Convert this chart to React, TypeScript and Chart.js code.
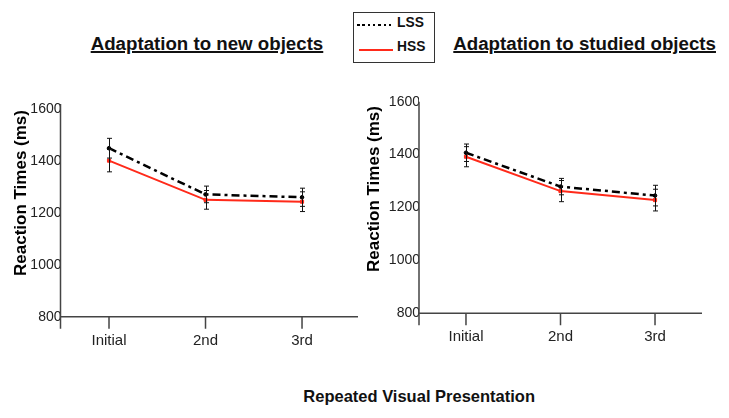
import React, { useEffect, useRef } from "react";
import { Chart, registerables } from "chart.js";

Chart.register(...registerables);
Chart.defaults.font.family = '"Liberation Sans", Arial, Helvetica, sans-serif';

// ---------- data ----------
const categories = ["Initial", "2nd", "3rd"];
const seriesNames = ["LSS", "HSS"];
const yMin = 800;
const yMax = 1600;
const yStep = 200;

const newLSS = [1449, 1271, 1260];
const newHSS = [1401, 1250, 1243];
const newLSSErr = [38, 32, 35];
const newHSSErr = [43, 36, 38];

const studiedLSS = [1407, 1279, 1245];
const studiedHSS = [1392, 1262, 1228];
const studiedLSSErr = [33, 31, 39];
const studiedHSSErr = [38, 40, 41];

const panelTitles = ["Adaptation to new objects", "Adaptation to studied objects"];
const yAxisTitle = "Reaction Times (ms)";
const xAxisTitle = "Repeated Visual Presentation";

const FONT = '"Liberation Sans", Arial, Helvetica, sans-serif';
const LSS_COLOR = "#000000";
const HSS_COLOR = "#ff2a1a";
const AXIS_COLOR = "#444444";

// ---------- plugins ----------
const axesPlugin = {
  id: "axesCustom",
  afterDraw(chart: any, _args: any, opts: any) {
    const { ctx, chartArea } = chart;
    const { left, right, top, bottom } = chartArea;
    const xs = chart.scales.x;
    ctx.save();
    ctx.strokeStyle = AXIS_COLOR;
    ctx.lineWidth = 1.5;
    ctx.beginPath();
    ctx.moveTo(left, top - opts.yExtTop);
    ctx.lineTo(left, bottom + 12);
    ctx.moveTo(left, bottom);
    ctx.lineTo(right, bottom);
    categories.forEach((_, i) => {
      const px = xs.getPixelForValue(i);
      ctx.moveTo(px, bottom);
      ctx.lineTo(px, bottom + 12);
    });
    ctx.stroke();
    ctx.translate(opts.titleX, opts.titleY);
    ctx.rotate(-Math.PI / 2);
    ctx.font = `bold 17px ${FONT}`;
    ctx.fillStyle = "#000";
    ctx.textAlign = "center";
    ctx.textBaseline = "middle";
    ctx.fillText(yAxisTitle, 0, 0);
    ctx.restore();
  },
};

const errorBarPlugin = {
  id: "errorBars",
  afterDatasetsDraw(chart: any) {
    const { ctx } = chart;
    const ys = chart.scales.y;
    ctx.save();
    ctx.strokeStyle = "#111";
    ctx.lineWidth = 1;
    chart.data.datasets.forEach((ds: any, d: number) => {
      const meta = chart.getDatasetMeta(d);
      meta.data.forEach((el: any, i: number) => {
        const v = ds.data[i].y;
        const e = ds.errors[i];
        const x = Math.round(el.x) + 0.5;
        const yt = ys.getPixelForValue(v + e);
        const yb = ys.getPixelForValue(v - e);
        ctx.beginPath();
        ctx.moveTo(x, yt);
        ctx.lineTo(x, yb);
        ctx.moveTo(x - 2.5, yt);
        ctx.lineTo(x + 2.5, yt);
        ctx.moveTo(x - 2.5, yb);
        ctx.lineTo(x + 2.5, yb);
        ctx.stroke();
      });
    });
    ctx.restore();
  },
};

type Geo = {
  left: number;
  top: number;
  width: number;
  height: number;
  padTop: number;
  padRight: number;
  yWidth: number;
  xHeight: number;
  xMin: number;
  xMax: number;
  titleX: number;
  titleY: number;
  yExtTop: number;
};

function Panel(props: {
  lss: number[];
  hss: number[];
  lssErr: number[];
  hssErr: number[];
  geo: Geo;
}) {
  const ref = useRef<HTMLCanvasElement | null>(null);
  const { lss, hss, lssErr, hssErr, geo } = props;

  useEffect(() => {
    if (!ref.current) return;
    const chart = new Chart(ref.current, {
      type: "line",
      data: {
        datasets: [
          {
            label: seriesNames[0],
            data: lss.map((y, i) => ({ x: i, y })),
            errors: lssErr,
            borderColor: LSS_COLOR,
            backgroundColor: LSS_COLOR,
            borderWidth: 2.5,
            borderDash: [8, 4, 3, 4],
            pointRadius: 1.8,
            pointBorderWidth: 1,
            pointStyle: "circle",
            tension: 0,
          } as any,
          {
            label: seriesNames[1],
            data: hss.map((y, i) => ({ x: i, y })),
            errors: hssErr,
            borderColor: HSS_COLOR,
            backgroundColor: HSS_COLOR,
            borderWidth: 2,
            pointRadius: 2.2,
            pointBorderWidth: 1,
            pointStyle: "rect",
            tension: 0,
          } as any,
        ],
      },
      options: {
        responsive: false,
        animation: false,
        devicePixelRatio: 1,
        layout: { padding: { top: geo.padTop, right: geo.padRight, left: 0, bottom: 0 } },
        plugins: {
          legend: { display: false },
          tooltip: { enabled: false },
          axesCustom: { titleX: geo.titleX, titleY: geo.titleY, yExtTop: geo.yExtTop },
        } as any,
        scales: {
          x: {
            type: "linear",
            min: geo.xMin,
            max: geo.xMax,
            grid: { display: false, drawTicks: false },
            border: { display: false },
            afterBuildTicks: (s: any) => {
              s.ticks = categories.map((_, i) => ({ value: i }));
            },
            afterFit: (s: any) => {
              s.height = geo.xHeight;
            },
            ticks: {
              autoSkip: false,
              maxRotation: 0,
              padding: 15,
              color: "#222",
              font: { size: 15 },
              callback: (v: any) => categories[v] ?? "",
            },
          },
          y: {
            min: yMin,
            max: yMax,
            grid: { display: false, drawTicks: false },
            border: { display: false },
            afterFit: (s: any) => {
              s.width = geo.yWidth;
            },
            ticks: {
              stepSize: yStep,
              padding: -1,
              color: "#222",
              font: { size: 14 },
              callback: (v: any) => String(v),
            },
          },
        },
      } as any,
      plugins: [axesPlugin, errorBarPlugin],
    });
    return () => chart.destroy();
  }, []);

  return (
    <canvas
      ref={ref}
      width={geo.width}
      height={geo.height}
      style={{ position: "absolute", left: geo.left, top: geo.top, width: geo.width, height: geo.height }}
    />
  );
}

const leftGeo: Geo = {
  left: 0,
  top: 80,
  width: 365,
  height: 280,
  padTop: 29,
  padRight: 7,
  yWidth: 60.5,
  xHeight: 43.3,
  xMin: -0.5026,
  xMax: 2.58,
  titleX: 21,
  titleY: 113,
  yExtTop: 5,
};

const rightGeo: Geo = {
  left: 365,
  top: 80,
  width: 364,
  height: 280,
  padTop: 21.7,
  padRight: 27,
  yWidth: 54,
  xHeight: 46.7,
  xMin: -0.497,
  xMax: 2.497,
  titleX: 9,
  titleY: 109,
  yExtTop: 0,
};

const titleStyle: React.CSSProperties = {
  position: "absolute",
  whiteSpace: "nowrap",
  fontFamily: FONT,
  fontWeight: "bold",
  fontSize: 18.7,
  lineHeight: "18.7px",
  textDecoration: "underline",
  textDecorationThickness: "2px",
  color: "#111",
};

export default function App() {
  return (
    <div
      style={{
        position: "fixed",
        left: 0,
        top: 0,
        width: 729,
        height: 418,
        background: "#fff",
        overflow: "hidden",
      }}
    >
      <Panel lss={newLSS} hss={newHSS} lssErr={newLSSErr} hssErr={newHSSErr} geo={leftGeo} />
      <Panel lss={studiedLSS} hss={studiedHSS} lssErr={studiedLSSErr} hssErr={studiedHSSErr} geo={rightGeo} />

      <div style={{ ...titleStyle, left: 90.7, top: 35.2 }}>{panelTitles[0]}</div>
      <div style={{ ...titleStyle, left: 453.3, top: 35.2 }}>{panelTitles[1]}</div>

      <div
        style={{
          position: "absolute",
          left: 303.3,
          top: 388.3,
          whiteSpace: "nowrap",
          fontFamily: FONT,
          fontWeight: "bold",
          fontSize: 16.5,
          lineHeight: "16.5px",
          color: "#111",
        }}
      >
        {xAxisTitle}
      </div>

      <div
        style={{
          position: "absolute",
          left: 352.5,
          top: 11.5,
          width: 80,
          height: 49,
          border: "1px solid #333",
          fontFamily: FONT,
          fontWeight: "bold",
          fontSize: 13.8,
          lineHeight: "13.8px",
          color: "#111",
        }}
      >
        <div
          style={{
            position: "absolute",
            left: 3,
            top: 11,
            width: 37,
            height: 2.5,
            background: "repeating-linear-gradient(to right, #000 0 2.5px, transparent 2.5px 5.3px)",
          }}
        />
        <div style={{ position: "absolute", left: 43.5, top: 3.6 }}>{seriesNames[0]}</div>
        <div
          style={{ position: "absolute", left: 5.5, top: 36, width: 34, height: 2, background: HSS_COLOR }}
        />
        <div style={{ position: "absolute", left: 43.5, top: 27.6 }}>{seriesNames[1]}</div>
      </div>
    </div>
  );
}
